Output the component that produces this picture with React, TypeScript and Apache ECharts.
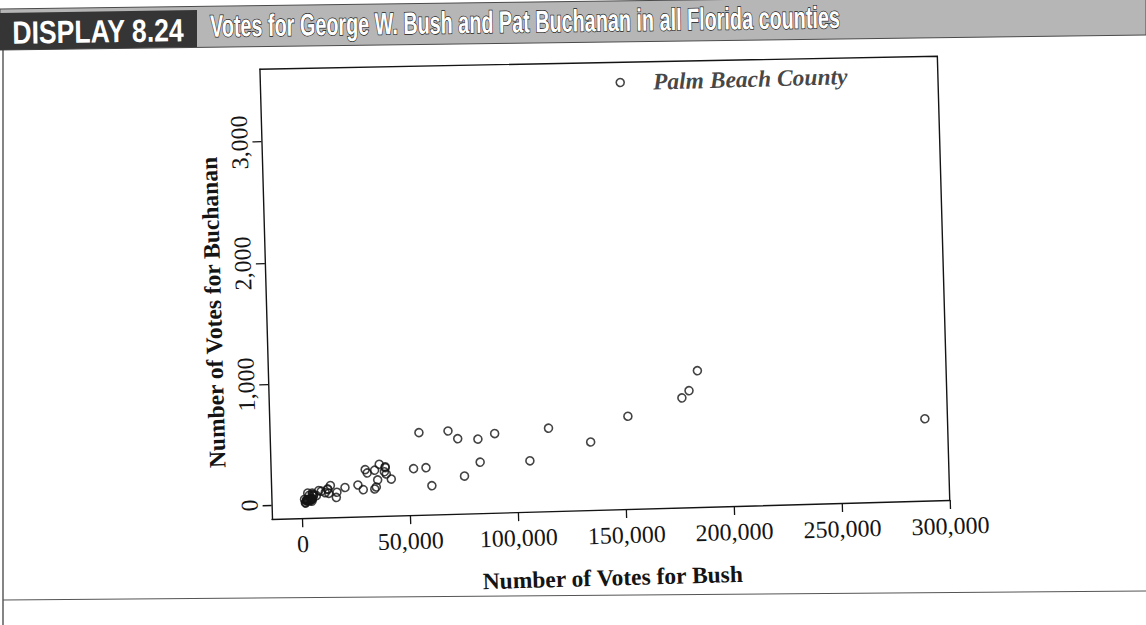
import React, { useEffect, useRef } from "react";
import * as echarts from "echarts";

// ---- Data (Florida counties, 2000) ----
const countyNames = [
  "Alachua", "Baker", "Bay", "Bradford", "Brevard", "Broward", "Calhoun", "Charlotte", "Citrus", "Clay",
  "Collier", "Columbia", "Dade", "DeSoto", "Dixie", "Duval", "Escambia", "Flagler", "Franklin", "Gadsden",
  "Gilchrist", "Glades", "Gulf", "Hamilton", "Hardee", "Hendry", "Hernando", "Highlands", "Hillsborough", "Holmes",
  "Indian River", "Jackson", "Jefferson", "Lafayette", "Lake", "Lee", "Leon", "Levy", "Liberty", "Madison",
  "Manatee", "Marion", "Martin", "Monroe", "Nassau", "Okaloosa", "Okeechobee", "Orange", "Osceola", "Palm Beach",
  "Pasco", "Pinellas", "Polk", "Putnam", "St. Johns", "St. Lucie", "Santa Rosa", "Sarasota", "Seminole", "Sumter",
  "Suwannee", "Taylor", "Union", "Volusia", "Wakulla", "Walton", "Washington",
];
const bushVotes = [
  34124, 5610, 38637, 5414, 115185, 177323, 2873, 35426, 29767, 41736,
  60450, 10964, 289533, 4256, 2697, 152082, 73017, 12613, 2454, 4767,
  3300, 1841, 3546, 2153, 3764, 4743, 30646, 20196, 180713, 5011,
  28627, 9138, 2481, 1669, 39053, 106141, 39062, 6860, 1316, 3038,
  57948, 55135, 33972, 16059, 16404, 52186, 5057, 134517, 26212, 152846,
  68607, 184849, 90180, 13457, 39497, 34705, 36339, 83100, 75677, 12127,
  8006, 4056, 2332, 82357, 4512, 12182, 4994,
];
const buchananVotes = [
  263, 73, 248, 65, 570, 789, 90, 182, 270, 186,
  122, 89, 561, 36, 29, 650, 504, 83, 33, 39,
  29, 9, 71, 24, 30, 22, 242, 127, 847, 76,
  105, 102, 29, 10, 289, 305, 282, 67, 39, 29,
  272, 563, 108, 47, 90, 267, 43, 446, 145, 3407,
  570, 1010, 538, 147, 229, 124, 311, 305, 194, 114,
  108, 27, 37, 496, 46, 120, 88,
];
const highlightedCounty = "Palm Beach";
const xTickValues = [0, 50000, 100000, 150000, 200000, 250000, 300000];
const yTickValues = [0, 1000, 2000, 3000];

const displayLabel = "DISPLAY 8.24";
const titleText = "Votes for George W. Bush and Pat Buchanan in all Florida counties";
const xAxisTitle = "Number of Votes for Bush";
const yAxisTitle = "Number of Votes for Buchanan";
const pointLabel = "Palm Beach County";

const SERIF = '"Liberation Serif", "Times New Roman", "DejaVu Serif", serif';
const SANS = '"Liberation Sans", Arial, "DejaVu Sans", sans-serif';
const INK = "#141414";

const fmt = (v: number) => Math.round(v).toLocaleString("en-US");

function measure(text: string, font: string): number {
  const c = document.createElement("canvas").getContext("2d");
  if (!c) return text.length * 12;
  c.font = font;
  return c.measureText(text).width;
}

export default function App() {
  const bgRef = useRef<HTMLDivElement>(null);
  const chartRef = useRef<HTMLDivElement>(null);

  useEffect(() => {
    if (!bgRef.current || !chartRef.current) return;
    const bg = echarts.init(bgRef.current, undefined, { renderer: "svg" });
    const chart = echarts.init(chartRef.current, undefined, { renderer: "svg" });

    const tilt = -0.014;
    const titleFont = `bold 31px ${SANS}`;
    const titleScale = 630 / measure(titleText, titleFont);
    const dispFont = `bold 32px ${SANS}`;
    const dispScale = 172 / measure(displayLabel, dispFont);

    bg.setOption({
      animation: false,
      graphic: [
        {
          type: "polygon",
          shape: { points: [[0, 9], [1146, -6], [1146, 35], [0, 50]] },
          style: { fill: "#b6b6b6", stroke: "#4a4a4a", lineWidth: 1 },
          silent: true,
        },
        {
          type: "polygon",
          shape: { points: [[0, 13], [197, 10], [197, 47], [0, 50]] },
          style: { fill: "#353535" },
          silent: true,
        },
        {
          type: "text",
          x: 98,
          y: 31,
          rotation: -tilt,
          scaleX: dispScale,
          style: {
            text: displayLabel,
            font: dispFont,
            fill: "#ffffff",
            align: "center",
            verticalAlign: "middle",
          },
          silent: true,
        },
        {
          type: "text",
          x: 210,
          y: 26,
          rotation: -tilt,
          scaleX: titleScale,
          style: {
            text: titleText,
            font: titleFont,
            fill: "#ffffff",
            stroke: "#1c1c1c",
            lineWidth: 1.5,
            align: "left",
            verticalAlign: "middle",
          },
          silent: true,
        },
        {
          type: "line",
          shape: { x1: 3, y1: 50, x2: 3, y2: 625 },
          style: { stroke: "#333", lineWidth: 1.2 },
          silent: true,
        },
        {
          type: "line",
          shape: { x1: 3, y1: 600, x2: 1146, y2: 591 },
          style: { stroke: "#555", lineWidth: 1.2 },
          silent: true,
        },
      ],
    });

    const data = bushVotes.map((b, i) => {
      const item: any = { name: countyNames[i], value: [b, buchananVotes[i]] };
      if (countyNames[i] === highlightedCounty) {
        item.label = {
          show: true,
          position: "right",
          distance: 28,
          formatter: pointLabel,
          fontFamily: SERIF,
          fontStyle: "italic",
          fontWeight: "bold",
          fontSize: 23.5,
          color: INK,
        };
      }
      return item;
    });

    // plot frame (grid) in the chart's own coordinates
    const gl = 272, gt = 69, gw = 678, gh = 450;

    chart.setOption({
      animation: false,
      grid: { left: gl, top: gt, width: gw, height: gh, show: false },
      xAxis: {
        type: "value",
        min: -14000,
        max: 300000,
        axisLine: { show: true, onZero: false, lineStyle: { color: INK, width: 1.4 } },
        axisTick: { show: true, customValues: xTickValues, length: 9, lineStyle: { color: INK, width: 1.3 } },
        axisLabel: {
          customValues: xTickValues,
          formatter: (v: number) => fmt(v),
          fontFamily: SERIF,
          fontSize: 24,
          color: INK,
          margin: 14,
        },
        splitLine: { show: false },
      },
      yAxis: {
        type: "value",
        min: -116,
        max: 3600,
        axisLine: { show: true, onZero: false, lineStyle: { color: INK, width: 1.4 } },
        axisTick: { show: true, customValues: yTickValues, length: 9, lineStyle: { color: INK, width: 1.3 } },
        axisLabel: {
          customValues: yTickValues,
          formatter: (v: number) => fmt(v),
          rotate: 90,
          fontFamily: SERIF,
          fontSize: 24,
          color: INK,
          margin: 10,
        },
        splitLine: { show: false },
      },
      series: [
        {
          type: "scatter",
          data,
          symbol: "circle",
          symbolSize: 8,
          itemStyle: { color: "rgba(0,0,0,0)", borderColor: INK, borderWidth: 1.6 },
        },
      ],
      graphic: [
        {
          type: "polyline",
          shape: { points: [[gl, gt], [gl + gw, gt + 6], [gl + gw, gt + gh]] },
          style: { stroke: INK, lineWidth: 1.4, fill: null },
          silent: true,
        },
        {
          type: "text",
          x: 611,
          y: 587,
          style: {
            text: xAxisTitle,
            font: `bold 23.5px ${SERIF}`,
            fill: INK,
            align: "center",
            verticalAlign: "middle",
          },
          silent: true,
        },
        {
          type: "text",
          x: 219,
          y: 311,
          rotation: Math.PI / 2,
          style: {
            text: yAxisTitle,
            font: `bold 23.5px ${SERIF}`,
            fill: INK,
            align: "center",
            verticalAlign: "middle",
          },
          silent: true,
        },
      ],
    });

    return () => {
      bg.dispose();
      chart.dispose();
    };
  }, []);

  return (
    <div
      style={{
        position: "fixed",
        left: 0,
        top: 0,
        width: 1146,
        height: 625,
        background: "#ffffff",
        overflow: "hidden",
      }}
    >
      <div ref={bgRef} style={{ position: "absolute", left: 0, top: 0, width: 1146, height: 625 }} />
      <div
        ref={chartRef}
        style={{
          position: "absolute",
          left: 0,
          top: 0,
          width: 1146,
          height: 625,
          transform: "rotate(-1.6deg)",
          transformOrigin: "272px 519px",
        }}
      />
    </div>
  );
}
